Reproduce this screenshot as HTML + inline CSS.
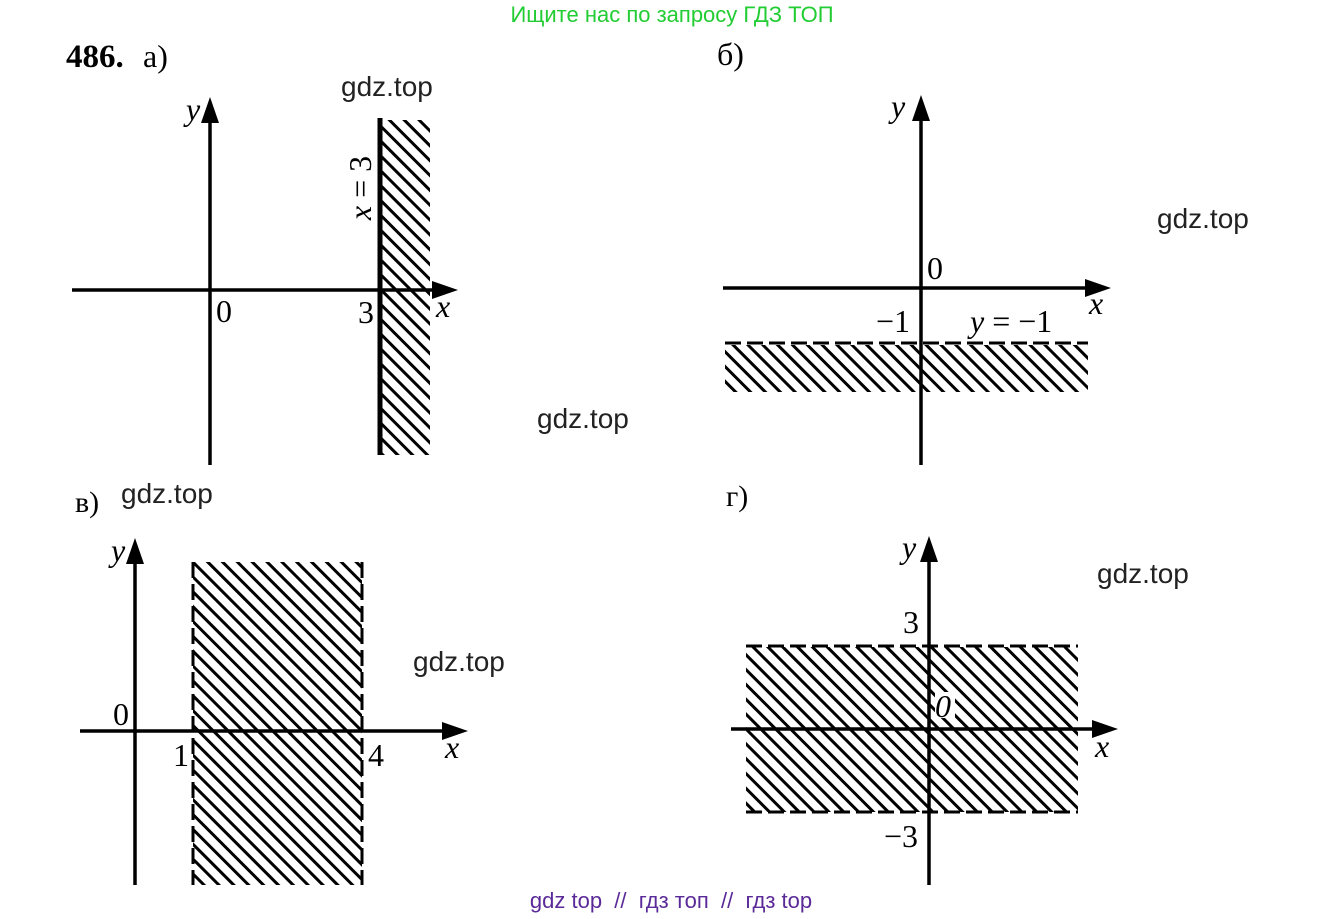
<!DOCTYPE html>
<html><head><meta charset="utf-8"><style>
html,body{margin:0;padding:0;background:#fff;}
svg{display:block;}
.s{font-family:"Liberation Serif",serif;fill:#000;}
.i{font-style:italic;}
.w{font-family:"Liberation Sans","DejaVu Sans",sans-serif;fill:#222;font-size:28px;}
</style></head><body>
<svg width="1344" height="919" viewBox="0 0 1344 919" xmlns="http://www.w3.org/2000/svg">
<defs>
<pattern id="h" width="10.5" height="10.5" patternUnits="userSpaceOnUse" patternTransform="rotate(-45)">
<rect x="0" y="0" width="3" height="10.5" fill="#000"/>
</pattern>
</defs>
<text x="672" y="22" text-anchor="middle" font-family="Liberation Sans,DejaVu Sans,sans-serif" font-size="22" fill="#22cc33">Ищите нас по запросу ГДЗ ТОП</text>

<!-- a -->
<text x="66" y="67" class="s" font-size="33" font-weight="bold">486.</text>
<text x="143" y="67" class="s" font-size="32">а)</text>
<rect x="381" y="120" width="49" height="335" fill="url(#h)"/>
<line x1="380" y1="118" x2="380" y2="455" stroke="#000" stroke-width="5"/>
<line x1="72" y1="290" x2="435" y2="290" stroke="#000" stroke-width="3.5"/>
<polygon points="458,290 432,281 432,299" fill="#000"/>
<line x1="210" y1="120" x2="210" y2="465" stroke="#000" stroke-width="3.5"/>
<polygon points="210,97 201,123 219,123" fill="#000"/>
<text x="186" y="120" class="s i" font-size="32">y</text>
<text x="216" y="322" class="s" font-size="32">0</text>
<text x="358" y="323" class="s" font-size="32">3</text>
<text x="436" y="317" class="s i" font-size="32">x</text>
<text transform="translate(371,188) rotate(-90)" text-anchor="middle" class="s" font-size="32"><tspan class="i">x</tspan> = 3</text>

<!-- b -->
<text x="717" y="65" class="s" font-size="32">б)</text>
<rect x="725" y="345" width="363" height="47" fill="url(#h)"/>
<line x1="725" y1="343" x2="1088" y2="343" stroke="#000" stroke-width="3" stroke-dasharray="16,6"/>
<line x1="723" y1="288" x2="1088" y2="288" stroke="#000" stroke-width="3.5"/>
<polygon points="1111,288 1085,279 1085,297" fill="#000"/>
<line x1="921" y1="118" x2="921" y2="465" stroke="#000" stroke-width="3.5"/>
<polygon points="921,95 912,121 930,121" fill="#000"/>
<text x="891" y="117" class="s i" font-size="32">y</text>
<text x="927" y="279" class="s" font-size="32">0</text>
<text x="876" y="332" class="s" font-size="32">−1</text>
<text x="970" y="332" class="s" font-size="32"><tspan class="i">y</tspan> = −1</text>
<text x="1089" y="314" class="s i" font-size="32">x</text>

<!-- c -->
<text x="75" y="512" class="s" font-size="30">в)</text>
<rect x="193" y="562" width="169" height="323" fill="url(#h)"/>
<line x1="193" y1="562" x2="193" y2="885" stroke="#000" stroke-width="3" stroke-dasharray="16,6"/>
<line x1="362" y1="562" x2="362" y2="885" stroke="#000" stroke-width="3" stroke-dasharray="16,6"/>
<line x1="80" y1="731" x2="445" y2="731" stroke="#000" stroke-width="3.5"/>
<polygon points="468,731 442,722 442,740" fill="#000"/>
<line x1="135" y1="560" x2="135" y2="885" stroke="#000" stroke-width="3.5"/>
<polygon points="135,538 126,564 144,564" fill="#000"/>
<text x="111" y="561" class="s i" font-size="32">y</text>
<text x="113" y="725" class="s" font-size="32">0</text>
<text x="173" y="766" class="s" font-size="32">1</text>
<text x="368" y="766" class="s" font-size="32">4</text>
<text x="445" y="758" class="s i" font-size="32">x</text>

<!-- d -->
<text x="726" y="506" class="s" font-size="30">г)</text>
<rect x="746" y="647" width="332" height="165" fill="url(#h)"/>
<line x1="746" y1="646" x2="1078" y2="646" stroke="#000" stroke-width="3" stroke-dasharray="16,6"/>
<line x1="746" y1="812" x2="1078" y2="812" stroke="#000" stroke-width="3" stroke-dasharray="16,6"/>
<line x1="731" y1="729" x2="1095" y2="729" stroke="#000" stroke-width="3.5"/>
<polygon points="1118,729 1092,720 1092,738" fill="#000"/>
<line x1="929" y1="558" x2="929" y2="885" stroke="#000" stroke-width="3.5"/>
<polygon points="929,536 920,562 938,562" fill="#000"/>
<text x="902" y="558" class="s i" font-size="32">y</text>
<text x="903" y="633" class="s" font-size="32">3</text>
<rect x="935" y="692" width="20" height="26" fill="#fff"/>
<text x="935" y="717" class="s i" font-size="32">0</text>
<text x="884" y="847" class="s" font-size="32">−3</text>
<text x="1095" y="757" class="s i" font-size="32">x</text>

<!-- watermarks -->
<text x="341" y="96" class="w">gdz.top</text>
<text x="1157" y="228" class="w">gdz.top</text>
<text x="537" y="428" class="w">gdz.top</text>
<text x="121" y="503" class="w">gdz.top</text>
<text x="413" y="671" class="w">gdz.top</text>
<text x="1097" y="583" class="w">gdz.top</text>
<text x="671" y="908" text-anchor="middle" font-family="Liberation Sans,DejaVu Sans,sans-serif" font-size="22" fill="#5b2a99" xml:space="preserve">gdz top  //  гдз топ  //  гдз top</text>
</svg>
</body></html>
